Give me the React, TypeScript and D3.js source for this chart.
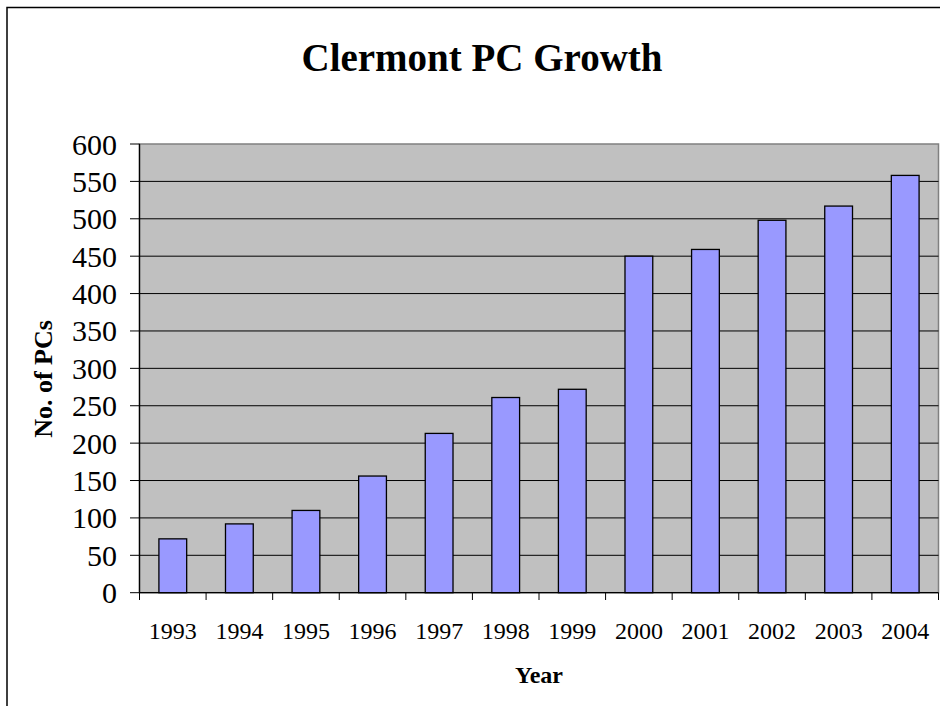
import React from "react";
import * as d3 from "d3";

const years = ["1993","1994","1995","1996","1997","1998","1999","2000","2001","2002","2003","2004"];
const pcs = [72, 92, 110, 156, 213, 261, 272, 450, 459, 498, 517, 558];
const yTicks = [0,50,100,150,200,250,300,350,400,450,500,550,600];
const title = "Clermont PC Growth";
const xTitle = "Year";
const yTitle = "No. of PCs";

export default function App() {
  const W = 940, H = 706;
  const left = 139.5, right = 938.5, top = 144, bottom = 592.7;
  const x = d3.scaleBand<string>().domain(years).range([left, right]).padding(0);
  const y = d3.scaleLinear().domain([0, 600]).range([bottom, top]);
  const bw = x.bandwidth() * 0.417;
  const font = "'Liberation Serif', 'Times New Roman', serif";
  const boundaries = [...years.map(d => x(d) as number), right];
  return (
    <svg width={W} height={H} style={{ position: "absolute", left: 0, top: 0, background: "#fff" }}>
      <rect x={7} y={7.5} width={W + 20} height={H + 20} fill="#fff" stroke="#000" strokeWidth={1.5} />
      <text x={482} y={71} textAnchor="middle" fontFamily={font} fontWeight="bold" fontSize={39}>{title}</text>
      <rect x={left} y={top} width={right - left} height={bottom - top} fill="#C0C0C0" stroke="#808080" strokeWidth={1.5} />
      {yTicks.filter(t => t > 0 && t < 600).map(t => (
        <line key={"g" + t} x1={left} x2={right} y1={y(t)} y2={y(t)} stroke="#000" strokeWidth={1} />
      ))}
      {years.map((d, i) => (
        <rect key={d} x={(x(d) as number) + x.bandwidth() / 2 - bw / 2} y={y(pcs[i])} width={bw} height={bottom - y(pcs[i])}
          fill="#9999FF" stroke="#000" strokeWidth={1.3} />
      ))}
      <line x1={left} x2={left} y1={top} y2={bottom} stroke="#000" strokeWidth={1.3} />
      <line x1={left} x2={right} y1={bottom} y2={bottom} stroke="#000" strokeWidth={1.3} />
      {yTicks.map(t => (
        <g key={"y" + t}>
          <line x1={130} x2={left} y1={y(t)} y2={y(t)} stroke="#000" strokeWidth={1} />
          <text x={117} y={y(t)} dy="0.35em" textAnchor="end" fontFamily={font} fontSize={30}>{t}</text>
        </g>
      ))}
      {boundaries.map((b, i) => (
        <line key={"xt" + i} x1={b} x2={b} y1={bottom} y2={600} stroke="#000" strokeWidth={1} />
      ))}
      {years.map(d => (
        <text key={"xl" + d} x={(x(d) as number) + x.bandwidth() / 2} y={639.3} textAnchor="middle" fontFamily={font} fontSize={24}>{d}</text>
      ))}
      <text x={(left + right) / 2} y={682.7} textAnchor="middle" fontFamily={font} fontWeight="bold" fontSize={24}>{xTitle}</text>
      <text transform={`translate(51.5, 379) rotate(-90)`} textAnchor="middle" fontFamily={font} fontWeight="bold" fontSize={26}>{yTitle}</text>
    </svg>
  );
}
